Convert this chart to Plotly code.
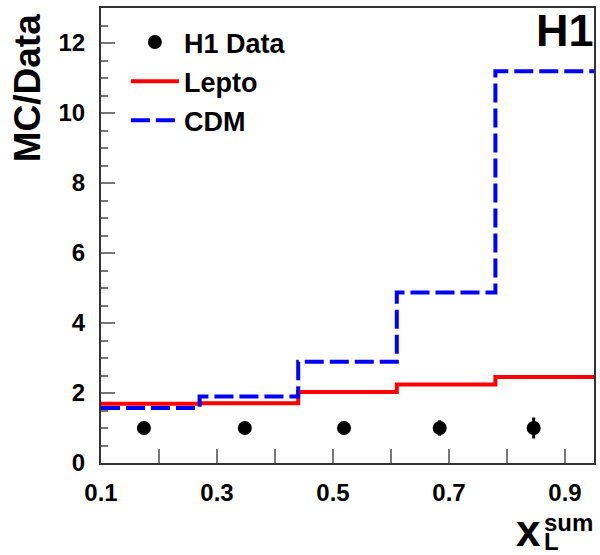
import plotly.graph_objects as go

# ---- data ----
bin_edges = [0.1, 0.27, 0.44, 0.61, 0.78, 0.95]
lepto = [1.69, 1.71, 2.03, 2.24, 2.46]
cdm = [1.57, 1.90, 2.89, 4.87, 11.19]
data_x = [0.174, 0.348, 0.519, 0.684, 0.846]
data_y = [1.0, 1.0, 1.0, 1.0, 1.0]
data_err = [0.05, 0.07, 0.1, 0.22, 0.3]
x_tickvals = [0.1, 0.3, 0.5, 0.7, 0.9]
x_ticktext = ["0.1", "0.3", "0.5", "0.7", "0.9"]

FONT = "Liberation Sans, Arial, Helvetica, sans-serif"

fig = go.Figure()

fig.add_trace(go.Scatter(
    x=bin_edges, y=lepto + [lepto[-1]], mode="lines", line_shape="hv",
    line=dict(color="#ff0000", width=4), name="Lepto",
    legendgroup="b", legendrank=2))
fig.add_trace(go.Scatter(
    x=bin_edges, y=cdm + [cdm[-1]], mode="lines", line_shape="hv",
    line=dict(color="#0000ff", width=4, dash="19px,6px"), name="CDM",
    legendgroup="c", legendrank=3))
fig.add_trace(go.Scatter(
    x=data_x, y=data_y, mode="markers", name="H1 Data",
    marker=dict(color="black", size=14),
    error_y=dict(type="data", array=data_err, color="black", thickness=3, width=0),
    legendgroup="a", legendrank=1))

W, H = 600, 555
ml, mr, mt, mb = 101, 4, 8, 92
pw = W - ml - mr
ph = H - mt - mb

def px(xp):
    return (xp - ml) / pw

def py(yp):
    return 1 - (yp - mt) / ph

fig.update_layout(
    width=W, height=H,
    margin=dict(l=ml, r=mr, t=mt, b=mb),
    paper_bgcolor="white", plot_bgcolor="white",
    font=dict(family=FONT, color="black"),
    showlegend=True,
    legend=dict(x=px(126), y=py(18), xanchor="left", yanchor="top",
                bgcolor="rgba(0,0,0,0)", tracegroupgap=1, itemwidth=48,
                font=dict(size=27, family=FONT, weight="bold")),
    xaxis=dict(range=[0.1, 0.95], showgrid=False, zeroline=False,
               showline=True, linecolor="#333333", linewidth=2, mirror=True,
               ticks="inside", ticklen=14, tickcolor="#777777", tickwidth=2,
               tickvals=x_tickvals, ticktext=x_ticktext,
               minor=dict(tickvals=[0.2, 0.4, 0.6, 0.8], ticks="inside", ticklen=14,
                          tickcolor="#777777", tickwidth=2),
               tickfont=dict(size=24, family=FONT, weight="bold"),
               ticklabelstandoff=7),
    yaxis=dict(range=[0, 13], showgrid=False, zeroline=False,
               showline=True, linecolor="#333333", linewidth=2, mirror=True,
               ticks="inside", ticklen=14, tickcolor="#777777", tickwidth=2,
               tick0=0, dtick=2,
               minor=dict(dtick=0.5, ticks="inside", ticklen=7,
                          tickcolor="#777777", tickwidth=2),
               tickfont=dict(size=24, family=FONT, weight="bold"),
               ticklabelstandoff=9),
)

anns = [
    dict(text="MC/Data", x=px(27), y=py(88), textangle=-90,
         font=dict(size=37, weight="bold")),
    dict(text="H1", x=px(598), y=py(30), xanchor="right",
         font=dict(size=45, weight="bold")),
    dict(text="x", x=px(530), y=py(530),
         font=dict(size=44, weight="bold")),
    dict(text="sum", x=px(570), y=py(522),
         font=dict(size=24, weight="bold")),
    dict(text="L", x=px(553), y=py(541),
         font=dict(size=24, weight="bold")),
]
for a in anns:
    a.setdefault("xanchor", "center")
    a.update(xref="paper", yref="paper", yanchor="middle", showarrow=False)
    a["font"].update(family=FONT, color="black")
    fig.add_annotation(**a)

fig.write_html("out.html")
